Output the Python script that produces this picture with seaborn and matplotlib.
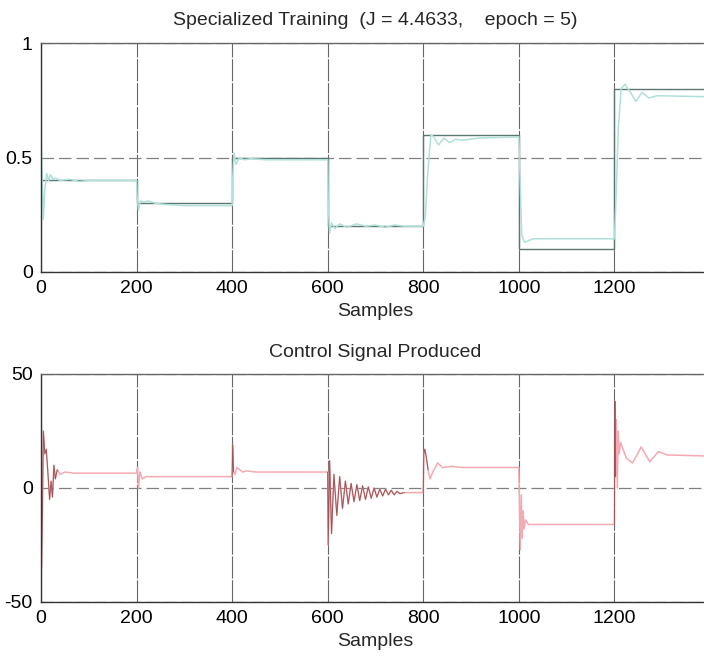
import numpy as np
import matplotlib
matplotlib.use("Agg")
import matplotlib.pyplot as plt
import seaborn as sns

# ---------------- data ----------------
title_top = "Specialized Training  (J = 4.4633,    epoch = 5)"
title_bottom = "Control Signal Produced"
xlabel = "Samples"
x_ticks = [0, 200, 400, 600, 800, 1000, 1200]
y_ticks_top = [0, 0.5, 1]
y_ticks_bottom = [-50, 0, 50]

# reference (step) signal
ref_t = [0, 200, 400, 600, 800, 1000, 1200, 1400]
ref_y = [0.40, 0.30, 0.50, 0.20, 0.60, 0.10, 0.80, 0.80]

# plant output
out_t = [0, 2, 5, 8, 12, 16, 20, 25, 30, 40, 60, 80, 100, 200,
         201, 204, 208, 215, 225, 240, 260, 300, 400,
         401, 404, 408, 415, 425, 440, 470, 600,
         601, 604, 608, 615, 625, 640, 660, 680, 700, 720, 740, 760, 800,
         804, 810, 816, 822, 832, 843, 855, 868, 880, 900, 915, 1000,
         1002, 1006, 1012, 1030, 1200,
         1203, 1208, 1214, 1222, 1232, 1245, 1258, 1272, 1290, 1400]
out_y = [0.58, 0.45, 0.23, 0.36, 0.43, 0.40, 0.425, 0.405, 0.41, 0.40, 0.405, 0.395, 0.40, 0.40,
         0.33, 0.27, 0.31, 0.305, 0.31, 0.30, 0.295, 0.29, 0.29,
         0.40, 0.52, 0.47, 0.50, 0.49, 0.495, 0.49, 0.49,
         0.30, 0.17, 0.215, 0.19, 0.21, 0.195, 0.21, 0.20, 0.205, 0.195, 0.205, 0.20, 0.20,
         0.24, 0.45, 0.60, 0.59, 0.555, 0.585, 0.565, 0.58, 0.575, 0.58, 0.585, 0.59,
         0.45, 0.16, 0.13, 0.145, 0.145,
         0.30, 0.62, 0.80, 0.82, 0.79, 0.745, 0.785, 0.76, 0.77, 0.765]

# control signal
u_t = [0, 1, 3, 5, 8, 11, 14, 18, 21, 24, 27, 30, 34, 40, 50, 70, 200,
       202, 204, 207, 212, 220, 400,
       401, 403, 406, 410, 416, 422, 430, 450, 600,
       601, 604, 608, 613, 619, 625, 631, 637, 643, 649, 655, 661, 667, 673, 679,
       685, 691, 697, 703, 709, 715, 721, 727, 733, 739, 745, 751, 760, 800,
       801, 803, 806, 810, 814, 820, 830, 840, 860, 880, 1000,
       1001, 1003, 1005, 1007, 1009, 1011, 1014, 1020, 1200,
       1201, 1202, 1204, 1206, 1208, 1210, 1213, 1218, 1225, 1238, 1256, 1274,
       1292, 1310, 1400]
u_y = [0, -35, -10, 25, 15, 17, 8, -5, 3, -4, 10, 4, 8, 6, 7, 6.5, 6.5,
       9, 0, 7, 4, 5, 5,
       19, 7, 6, 9, 8, 7, 7.5, 7, 7,
       -25, 12, -20, 6, -12, 5, -9, 3, -7, 2, -6, 1.5, -5.5, 1, -5,
       0.5, -4.5, 0, -4, -0.5, -3.5, -0.5, -3, -1, -3, -1.5, -2.5, -2, -2,
       15, 17, 14, 8, 4, 7, 11, 9, 9.5, 9, 9,
       -5, -27, -3, -22, -10, -18, -14, -16, -16,
       38, 5, 30, 0, 25, 15, 20, 17, 13, 11, 18, 11.5,
       16, 14.5, 14]

assert len(out_t) == len(out_y) and len(u_t) == len(u_y)

# ---------------- style ----------------
sns.set_style("white")
plt.rcParams["font.family"] = ["Liberation Sans", "DejaVu Sans"]

W, H = 704, 661
fig = plt.figure(figsize=(W / 100, H / 100), dpi=100)

left = 41 / W
width = (710 - 41) / W
ax1 = fig.add_axes([left, 1 - 272 / H, width, 229 / H])
ax2 = fig.add_axes([left, 1 - 602 / H, width, 228 / H])

REF_C = "#5c7674"
OUT_C = "#b0e0da"
U_C = "#f4aab2"
U_DARK = "#864040"

# top
sns.lineplot(x=ref_t, y=ref_y, ax=ax1, color=REF_C, lw=1.0,
             drawstyle="steps-post", estimator=None, sort=False)
sns.lineplot(x=out_t, y=out_y, ax=ax1, color=OUT_C, lw=1.1,
             estimator=None, sort=False)

# bottom
sns.lineplot(x=u_t, y=u_y, ax=ax2, color=U_C, lw=1.1, estimator=None, sort=False)
ut = np.array(u_t)
uy = np.array(u_y)
for a, b in [(0, 34), (400, 404), (600, 760), (800, 812), (1200, 1203)]:
    m = (ut >= a) & (ut <= b)
    sns.lineplot(x=ut[m], y=uy[m], ax=ax2, color=U_DARK, lw=0.7, alpha=0.8,
                 estimator=None, sort=False)

for ax, yt, ylim in [(ax1, y_ticks_top, (0, 1)), (ax2, y_ticks_bottom, (-50, 50))]:
    ax.set_xlim(0, 1400)
    ax.set_ylim(*ylim)
    ax.set_xticks(x_ticks)
    ax.set_yticks(yt)
    ax.set_yticklabels([("%g" % v) for v in yt])
    ax.tick_params(direction="in", length=4, width=0.8, labelsize=14, pad=6,
                   colors="#222222", labelcolor="black")
    ax.xaxis.grid(True, color="#666666", lw=0.8, linestyle=(0, (20, 1.5)))
    ax.yaxis.grid(True, color="#808080", lw=0.9, linestyle=(0, (10, 4)))
    ax.set_axisbelow(True)
    for s in ["left", "bottom"]:
        ax.spines[s].set_color("#333333")
        ax.spines[s].set_linewidth(1.0)
    ax.spines["top"].set_color("#666666")
    ax.spines["top"].set_linewidth(1.0)
    ax.spines["right"].set_color("#666666")
    ax.set_xlabel(xlabel, fontsize=14, labelpad=4)
    ax.set_ylabel("")

ax1.set_title(title_top, fontsize=14, pad=13)
ax2.set_title(title_bottom, fontsize=14, pad=12)

fig.savefig("out.png", dpi=100)
